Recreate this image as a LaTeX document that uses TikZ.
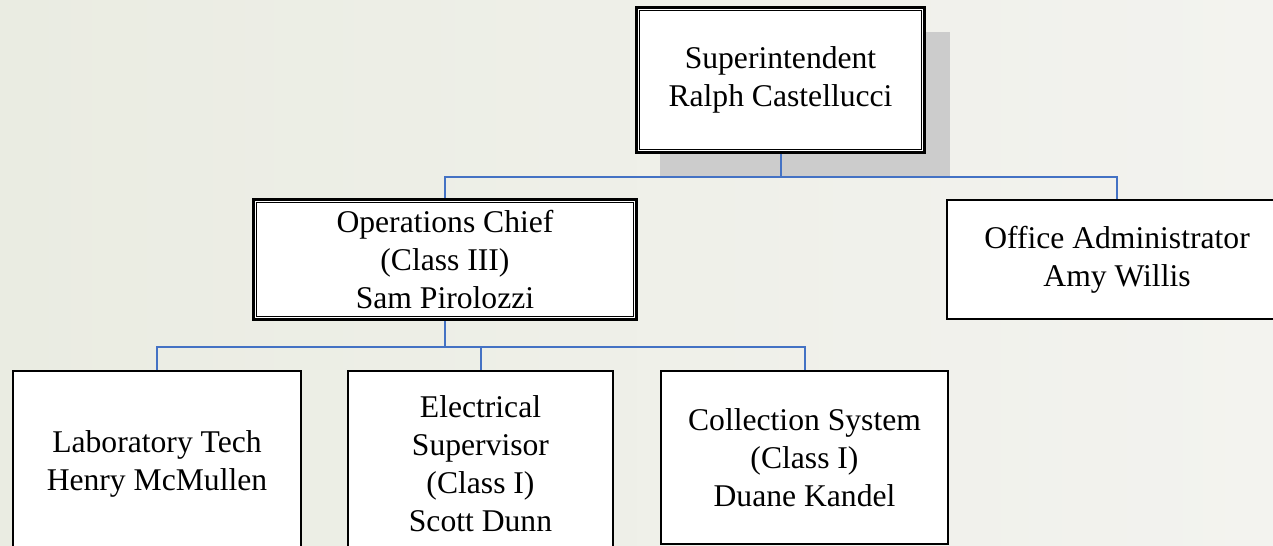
\documentclass[tikz,border=0pt]{standalone}
\usepackage{fontspec}
\setmainfont{Liberation Serif}
\usepackage{xcolor}
\usepackage{tikz}
\usetikzlibrary{calc}

\definecolor{linkblue}{RGB}{68,114,196}
\definecolor{bgleft}{RGB}{234,236,226}
\definecolor{bgright}{RGB}{243,243,239}
\definecolor{shadowgray}{RGB}{204,204,204}

\begin{document}
\begin{tikzpicture}
                [x=0.02cm,y=-0.02cm,
                 box/.style={draw,fill=white,line width=0.04cm,align=center,inner sep=0pt,
                             font=\fontsize{18}{21.6}\selectfont},
                 dbox/.style={box,line width=0.06cm},
                 link/.style={draw=linkblue,line width=0.04cm}]

                \useasboundingbox[left color=bgleft,right color=bgright] (0,0) rectangle (1273,546);

                \coordinate (S) at ( 780.5,  80.0);
                \coordinate (O) at ( 445.0, 259.5);
                \coordinate (A) at (1117.0, 259.5);
                \coordinate (L) at ( 157.0, 463.5);
                \coordinate (E) at ( 480.5, 463.5);
                \coordinate (C) at ( 804.5, 457.5);

                % shadow behind the top box
                \fill[shadowgray] (660,32) rectangle (950,178);

                \node[dbox,minimum width=5.78cm,minimum height=2.92cm] (sup) at (S)
                    {Superintendent\\Ralph Castellucci};
                \node[dbox,minimum width=7.68cm,minimum height=2.42cm] (ops) at (O)
                    {Operations Chief\\(Class III)\\Sam Pirolozzi};
                \node[box,minimum width=6.8cm,minimum height=2.4cm] (office) at (A)
                    {Office Administrator\\Amy Willis};
                \node[box,minimum width=5.76cm,minimum height=3.7cm] (lab) at (L)
                    {Laboratory Tech\\Henry McMullen};
                \node[box,minimum width=5.3cm,minimum height=3.7cm] (elec) at (E)
                    {Electrical\\Supervisor\\(Class I)\\Scott Dunn};
                \node[box,minimum width=5.74cm,minimum height=3.46cm] (coll) at (C)
                    {Collection System\\(Class I)\\Duane Kandel};

                % inner lines of the double frames
                \draw[line width=0.03cm] ([shift={(5,5)}]sup.north west) rectangle ([shift={(-5,-5)}]sup.south east);
                \draw[line width=0.03cm] ([shift={(5,5)}]ops.north west) rectangle ([shift={(-5,-5)}]ops.south east);

                \draw[link] (sup.south) -- ++(0,23) coordinate (j1);
                \draw[link] (ops.north) |- (j1) -| (office.north);
                \draw[link] (ops.south) -- ++(0,26) coordinate (j2);
                \draw[link] (lab.north) |- (j2) -| (coll.north);
                \draw[link] (j2) -| (elec.north);
            \end{tikzpicture}
\end{document}
